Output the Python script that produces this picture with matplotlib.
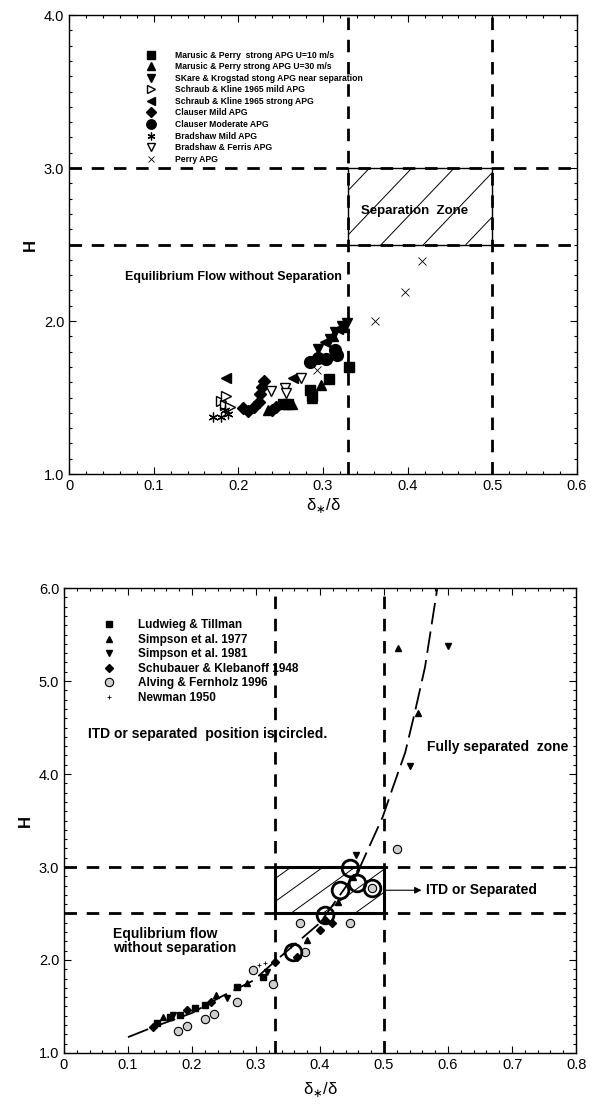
import numpy as np
import matplotlib
matplotlib.use("Agg")
from matplotlib import pyplot as plt
from matplotlib.patches import Rectangle
from matplotlib.ticker import MultipleLocator, FuncFormatter

plt.rcParams['font.family'] = ['Liberation Sans', 'DejaVu Sans']

# ---------------- top panel data (delta*/delta , H) ----------------
mp10_x = [0.253, 0.259, 0.285, 0.287, 0.307, 0.331]
mp10_y = [1.46, 1.46, 1.55, 1.51, 1.62, 1.70]
mp30_x = [0.235, 0.263, 0.287, 0.298, 0.312, 0.325]
mp30_y = [1.42, 1.46, 1.50, 1.58, 1.90, 1.96]
skare_x = [0.294, 0.308, 0.314, 0.322, 0.328]
skare_y = [1.82, 1.88, 1.93, 1.97, 1.99]
skm_x = [0.180, 0.184, 0.190, 0.186]
skm_y = [1.48, 1.45, 1.44, 1.51]
sks_x = [0.185, 0.265, 0.302, 0.318]
sks_y = [1.63, 1.63, 1.86, 1.95]
clm_x = [0.205, 0.212, 0.218, 0.224, 0.226, 0.228, 0.230, 0.240, 0.245]
clm_y = [1.43, 1.41, 1.44, 1.47, 1.52, 1.57, 1.61, 1.42, 1.44]
clmod_x = [0.285, 0.294, 0.304, 0.316, 0.314]
clmod_y = [1.73, 1.76, 1.75, 1.78, 1.81]
brm_x = [0.170, 0.180, 0.188, 0.184]
brm_y = [1.37, 1.37, 1.39, 1.42]
brf_x = [0.238, 0.255, 0.256, 0.274]
brf_y = [1.54, 1.56, 1.53, 1.63]
perry_x = [0.293, 0.362, 0.397, 0.417]
perry_y = [1.68, 2.00, 2.19, 2.39]

top_labels = ["Marusic & Perry  strong APG U=10 m/s",
              "Marusic & Perry strong APG U=30 m/s",
              "SKare & Krogstad stong APG near separation",
              "Schraub & Kline 1965 mild APG",
              "Schraub & Kline 1965 strong APG",
              "Clauser Mild APG",
              "Clauser Moderate APG",
              "Bradshaw Mild APG",
              "Bradshaw & Ferris APG",
              "Perry APG"]

# ---------------- bottom panel data ----------------
lt_x = [0.145, 0.166, 0.181, 0.205, 0.220, 0.270, 0.311]
lt_y = [1.32, 1.39, 1.41, 1.48, 1.52, 1.71, 1.82]
s77_x = [0.155, 0.238, 0.286, 0.380, 0.428, 0.452, 0.522, 0.553]
s77_y = [1.39, 1.62, 1.75, 2.22, 2.62, 2.89, 5.35, 4.66]
s81_x = [0.170, 0.254, 0.317, 0.456, 0.540, 0.600]
s81_y = [1.41, 1.59, 1.87, 3.13, 4.09, 5.38]
sk_x = [0.139, 0.192, 0.230, 0.330, 0.364, 0.400, 0.408, 0.418]
sk_y = [1.28, 1.46, 1.55, 1.98, 2.03, 2.32, 2.43, 2.40]
af_x = [0.178, 0.192, 0.220, 0.234, 0.270, 0.295, 0.327, 0.369, 0.377, 0.447, 0.520, 0.481]
af_y = [1.24, 1.29, 1.37, 1.42, 1.55, 1.89, 1.74, 2.40, 2.09, 2.40, 3.19, 2.77]
nw_x = [0.270, 0.305, 0.314, 0.355]
nw_y = [1.72, 1.95, 1.97, 2.15]
itd_x = [0.358, 0.408, 0.431, 0.458, 0.481, 0.447]
itd_y = [2.09, 2.48, 2.75, 2.83, 2.77, 2.99]
fit_x = [0.10, 0.14, 0.20, 0.244, 0.296, 0.327, 0.40, 0.4625, 0.498, 0.514, 0.533, 0.548, 0.564, 0.583]
fit_y = [1.17, 1.28, 1.43, 1.60, 1.78, 1.97, 2.40, 3.00, 3.54, 3.86, 4.23, 4.66, 5.15, 5.99]

bot_labels = ["Ludwieg & Tillman", "Simpson et al. 1977", "Simpson et al. 1981",
              "Schubauer & Klebanoff 1948", "Alving & Fernholz 1996", "Newman 1950"]

zone_x = (0.33, 0.5)
zone_y = (2.5, 3.0)


def hatch_box(ax, x0, x1, y0, y1, step, slope, lw_box):
    box = Rectangle((x0, y0), x1 - x0, y1 - y0, fill=False, ec='k', lw=lw_box, zorder=3)
    ax.add_patch(box)
    run = (y1 - y0) / slope
    for xs in np.arange(x0 - run + step * 0.5, x1, step):
        ln, = ax.plot([xs, xs + run], [y0, y1], color='k', lw=0.7, zorder=2)
        ln.set_clip_path(box)


def style_axes(ax, xmax, ymin, ymax, xpad):
    ax.set_xlim(0, xmax)
    ax.set_ylim(ymin, ymax)
    ax.xaxis.set_major_locator(MultipleLocator(0.1))
    ax.xaxis.set_minor_locator(MultipleLocator(0.02))
    ax.yaxis.set_major_locator(MultipleLocator(1.0))
    ax.yaxis.set_minor_locator(MultipleLocator(0.1))
    ax.xaxis.set_major_formatter(FuncFormatter(lambda v, p: "0" if abs(v) < 1e-9 else "%.1f" % v))
    ax.yaxis.set_major_formatter(FuncFormatter(lambda v, p: "%.1f" % v))
    ax.tick_params(which='both', direction='in', top=True, right=True, labelsize=10.5, width=0.8)
    ax.tick_params(which='major', length=5)
    ax.tick_params(which='minor', length=2.5)
    for s in ax.spines.values():
        s.set_linewidth(1.0)
    ax.set_xlabel("δ$_{\\ast}$/δ", fontsize=12, labelpad=xpad)
    ax.set_ylabel("H", fontsize=12, fontweight='bold', labelpad=4)


def zone_lines(ax):
    for xv in zone_x:
        ax.axvline(xv, color='k', lw=2.0, dashes=(4.5, 3.5), zorder=1)
    for yv in zone_y:
        ax.axhline(yv, color='k', lw=2.0, dashes=(4.5, 3.5), zorder=1)


fig = plt.figure(figsize=(5.92, 11.07), dpi=100)

# ---------------- top panel ----------------
ax1 = fig.add_axes([0.1166, 0.5718, 0.858, 0.4146])
style_axes(ax1, 0.6, 1.0, 4.0, 2)
zone_lines(ax1)
hatch_box(ax1, zone_x[0], zone_x[1], zone_y[0], zone_y[1], 0.05, 5.8, 1.0)

ms = 7
ax1.plot(mp10_x, mp10_y, 's', color='k', ms=ms, ls='none', label=top_labels[0])
ax1.plot(mp30_x, mp30_y, '^', color='k', ms=ms, ls='none', label=top_labels[1])
ax1.plot(skare_x, skare_y, 'v', color='k', ms=ms, ls='none', label=top_labels[2])
ax1.plot(skm_x, skm_y, '>', mfc='white', mec='k', mew=1.0, ms=ms, ls='none', label=top_labels[3])
ax1.plot(sks_x, sks_y, '<', color='k', ms=ms, ls='none', label=top_labels[4])
ax1.plot(clm_x, clm_y, 'D', color='k', ms=ms - 1, ls='none', label=top_labels[5])
ax1.plot(clmod_x, clmod_y, 'o', color='k', ms=ms + 1.5, ls='none', label=top_labels[6])
ax1.plot(brm_x, brm_y, marker=(6, 2, 0), color='k', mew=0.9, ms=ms, ls='none', label=top_labels[7])
ax1.plot(brf_x, brf_y, 'v', mfc='white', mec='k', mew=1.0, ms=ms, ls='none', label=top_labels[8])
ax1.plot(perry_x, perry_y, 'x', color='k', mew=0.6, ms=ms - 1, ls='none', label=top_labels[9])

ax1.legend(loc='upper left', bbox_to_anchor=(0.135, 0.932), frameon=False, borderpad=0,
           handlelength=2.0, handletextpad=1.8, labelspacing=0.3, markerscale=0.8,
           prop={'size': 6.2, 'weight': 'bold'})

ax1.text(0.408, 2.72, "Separation  Zone", fontsize=9.5, fontweight='bold', ha='center', va='center', zorder=4)
ax1.text(0.322, 2.29, "Equilibrium Flow without Separation", fontsize=9, fontweight='bold',
         ha='right', va='center')

# ---------------- bottom panel ----------------
ax2 = fig.add_axes([0.1081, 0.0488, 0.865, 0.42])
style_axes(ax2, 0.8, 1.0, 6.0, 6)
zone_lines(ax2)
hatch_box(ax2, zone_x[0], zone_x[1], zone_y[0], zone_y[1], 0.05, 4.95, 2.2)

ax2.plot(fit_x, fit_y, color='k', lw=1.3, dashes=(12, 4), zorder=2)

bs = 5
ax2.plot(lt_x, lt_y, 's', color='k', ms=bs, ls='none', label=bot_labels[0], zorder=5)
ax2.plot(s77_x, s77_y, '^', color='k', ms=bs, ls='none', label=bot_labels[1], zorder=5)
ax2.plot(s81_x, s81_y, 'v', color='k', ms=bs, ls='none', label=bot_labels[2], zorder=5)
ax2.plot(sk_x, sk_y, 'D', color='k', ms=bs - 0.5, ls='none', label=bot_labels[3], zorder=5)
ax2.plot(af_x, af_y, 'o', mfc='#cfcfcf', mec='k', mew=0.8, ms=bs + 1, ls='none', label=bot_labels[4], zorder=5)
ax2.plot(nw_x, nw_y, '+', color='k', ms=2.5, mew=0.6, ls='none', label=bot_labels[5], zorder=5)
ax2.plot(itd_x, itd_y, 'o', mfc='none', mec='k', mew=2.0, ms=12, ls='none', zorder=6)

ax2.legend(loc='upper left', bbox_to_anchor=(0.06, 0.946), frameon=False, borderpad=0,
           handlelength=1.5, handletextpad=1.65, labelspacing=0.22,
           prop={'size': 8.5, 'weight': 'bold'})

ax2.text(0.0375, 4.43, "ITD or separated  position is circled.", fontsize=10, fontweight='bold', va='center')
ax2.text(0.567, 4.29, "Fully separated  zone", fontsize=10, fontweight='bold', va='center')
ax2.text(0.077, 2.205, "Equlibrium flow\nwithout separation", fontsize=10, fontweight='bold',
         va='center', linespacing=0.95)
ax2.annotate("ITD or Separated", xy=(0.5, 2.75), xytext=(0.565, 2.75), fontsize=10, fontweight='bold',
             va='center', arrowprops=dict(arrowstyle='<|-', color='k', lw=0.8, shrinkA=1, shrinkB=0))

fig.savefig("out.png", dpi=100)
